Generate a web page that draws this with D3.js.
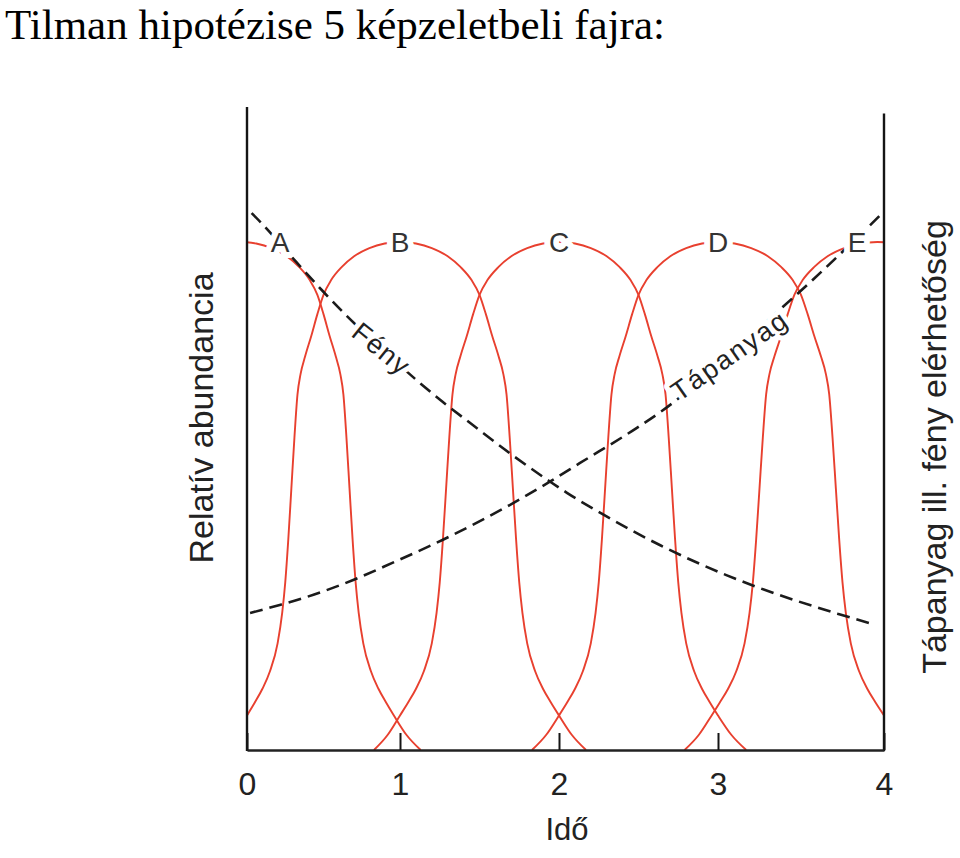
<!DOCTYPE html>
<html>
<head>
<meta charset="utf-8">
<script src="https://cdn.jsdelivr.net/npm/d3@7/dist/d3.min.js"></script>
<style>
  html, body { margin: 0; padding: 0; background: #fff; }
  svg { display: block; }
</style>
</head>
<body>
<svg id="chart" width="960" height="858"></svg>
<script>
// ---------------- data ----------------
const title = "Tilman hipotézise 5 képzeletbeli fajra:";
const xTicks = [0, 1, 2, 3, 4];
const xLabel = "Idő";
const yLabelLeft = "Relatív abundancia";
const yLabelRight = "Tápanyag ill. fény elérhetőség";

const species = ["A", "B", "C", "D", "E"];
const speciesCenter = [-0.04, 1, 2, 3, 3.96];

// shared abundance profile of each species (distance from its optimum, relative abundance)
const profileOffset = [0, 0.1, 0.2, 0.3, 0.38, 0.45, 0.5, 0.54, 0.58, 0.62, 0.65, 0.67, 0.69, 0.71, 0.73, 0.75, 0.77, 0.8, 0.85, 0.9, 0.95, 1.0, 1.08, 1.17];
const profileValue  = [1.0, 0.997, 0.988, 0.972, 0.951, 0.925, 0.896, 0.858, 0.815, 0.775, 0.74, 0.70, 0.615, 0.515, 0.415, 0.33, 0.27, 0.21, 0.155, 0.12, 0.093, 0.068, 0.03, 0];

// light availability (Fény)
const lightT = [0.03, 0.10, 0.28, 0.49, 0.64, 0.88, 1.11, 1.25, 1.46, 1.71, 1.94, 2.05, 2.28, 2.64, 3.05, 3.25, 3.72, 3.93];
const lightV = [0.835, 0.818, 0.770, 0.715, 0.678, 0.624, 0.574, 0.545, 0.505, 0.458, 0.418, 0.400, 0.366, 0.318, 0.272, 0.252, 0.212, 0.196];

// nutrient availability (Tápanyag)
const nutrientT = [0.02, 0.22, 0.39, 0.69, 0.95, 1.27, 1.69, 1.94, 2.13, 2.49, 2.64, 3.07, 3.39, 3.57, 3.73, 3.92, 3.99];
const nutrientV = [0.213, 0.226, 0.238, 0.264, 0.291, 0.327, 0.381, 0.417, 0.446, 0.501, 0.526, 0.614, 0.689, 0.731, 0.770, 0.817, 0.835];

const lightName = "Fény";
const nutrientName = "Tápanyag";

// ---------------- drawing ----------------
const svg = d3.select("#chart");

const x = d3.scaleLinear().domain(xTicks).range([247, 400, 559, 718, 884]);
const y = d3.scaleLinear().domain([0, 1]).range([750, 242]);   // relative abundance
const yR = d3.scaleLinear().domain([0, 1]).range([750, 107]);  // availability

const sans = "'Liberation Sans', Arial, Helvetica, sans-serif";

svg.append("text")
  .attr("x", 5).attr("y", 38.5)
  .attr("font-family", "'Liberation Serif', 'Times New Roman', serif")
  .attr("font-size", 43)
  .attr("fill", "#000")
  .text(title);

svg.append("defs").append("clipPath").attr("id", "plotclip")
  .append("rect")
  .attr("x", x(0)).attr("y", yR(1))
  .attr("width", x(4) - x(0)).attr("height", yR(0) - yR(1));

const plot = svg.append("g").attr("clip-path", "url(#plotclip)");

// species curves
const curveLine = d3.line()
  .x(d => x(d[0])).y(d => y(d[1]))
  .curve(d3.curveMonotoneX);

species.forEach((s, i) => {
  const c = speciesCenter[i];
  const pts = [];
  for (let k = profileOffset.length - 1; k > 0; k--) pts.push([c - profileOffset[k], profileValue[k]]);
  for (let k = 0; k < profileOffset.length; k++) pts.push([c + profileOffset[k], profileValue[k]]);
  plot.append("path")
    .attr("d", curveLine(pts))
    .attr("fill", "none")
    .attr("stroke", "#e8402f")
    .attr("stroke-width", 1.9);
});

// availability lines
const availLine = d3.line()
  .x(d => x(d[0])).y(d => yR(d[1]))
  .curve(d3.curveMonotoneX);

[[lightT, lightV], [nutrientT, nutrientV]].forEach(([ts, vs]) => {
  plot.append("path")
    .attr("d", availLine(ts.map((t, k) => [t, vs[k]])))
    .attr("fill", "none")
    .attr("stroke", "#1b1b1b")
    .attr("stroke-width", 2.6)
    .attr("stroke-dasharray", "13,7");
});

// frame
const frame = svg.append("g").attr("stroke", "#151515").attr("stroke-width", 2.4);
frame.append("line").attr("x1", x(0)).attr("x2", x(0)).attr("y1", yR(1)).attr("y2", yR(0) + 1);
frame.append("line").attr("x1", x(4)).attr("x2", x(4)).attr("y1", yR(0.99)).attr("y2", yR(0) + 1);

const xAxis = d3.axisBottom(x)
  .tickValues(xTicks)
  .tickFormat(d3.format("d"))
  .tickSizeInner(-17)
  .tickSizeOuter(0)
  .tickPadding(22);

const ax = svg.append("g").attr("transform", `translate(0,${y(0)})`).call(xAxis);
ax.select(".domain").attr("stroke", "#222").attr("stroke-width", 2.4);
ax.selectAll(".tick line").attr("stroke", "#151515").attr("stroke-width", 2);
ax.selectAll(".tick text")
  .attr("font-family", "'Liberation Sans Narrow', 'Arial Narrow', " + sans)
  .attr("font-size", 32)
  .attr("fill", "#222");

// axis titles
svg.append("text")
  .attr("x", (x(1) + x(3)) / 2 + 8).attr("y", 840)
  .attr("text-anchor", "middle")
  .attr("font-family", sans).attr("font-size", 31)
  .attr("fill", "#222")
  .text(xLabel);

svg.append("text")
  .attr("transform", `translate(213,418) rotate(-90)`)
  .attr("text-anchor", "middle")
  .attr("font-family", sans).attr("font-size", 34)
  .attr("fill", "#222")
  .text(yLabelLeft);

svg.append("text")
  .attr("transform", `translate(946,447) rotate(-90)`)
  .attr("text-anchor", "middle")
  .attr("font-family", sans).attr("font-size", 34)
  .attr("fill", "#222")
  .text(yLabelRight);

// species labels (with white knock-out halo)
species.forEach((s, i) => {
  const cx = Math.max(x(0) + 33, Math.min(x(4) - 27, x(speciesCenter[i])));
  svg.append("text")
    .attr("x", cx).attr("y", y(1))
    .attr("dy", "0.36em")
    .attr("text-anchor", "middle")
    .attr("font-family", sans).attr("font-size", 28)
    .attr("fill", "#333")
    .attr("stroke", "#fff").attr("stroke-width", 12)
    .attr("paint-order", "stroke")
    .attr("stroke-linejoin", "round")
    .text(s);
});

// line labels
function lineLabel(txt, t, ts, vs, angle, spacing) {
  let k = 0;
  while (k < ts.length - 2 && ts[k + 1] < t) k++;
  const f = (t - ts[k]) / (ts[k + 1] - ts[k]);
  const v = vs[k] + f * (vs[k + 1] - vs[k]);
  svg.append("text")
    .attr("transform", `translate(${x(t)},${yR(v)}) rotate(${angle})`)
    .attr("text-anchor", "middle")
    .attr("dy", "0.35em")
    .attr("font-family", sans).attr("font-size", 27)
    .attr("fill", "#222")
    .attr("stroke", "#fff").attr("stroke-width", 10)
    .attr("paint-order", "stroke")
    .attr("stroke-linejoin", "round")
    .attr("letter-spacing", spacing)
    .text(txt);
}
lineLabel(lightName, 0.88, lightT, lightV, 39, 1.5);
lineLabel(nutrientName, 3.07, nutrientT, nutrientV, -35, 2);
</script>
</body>
</html>
